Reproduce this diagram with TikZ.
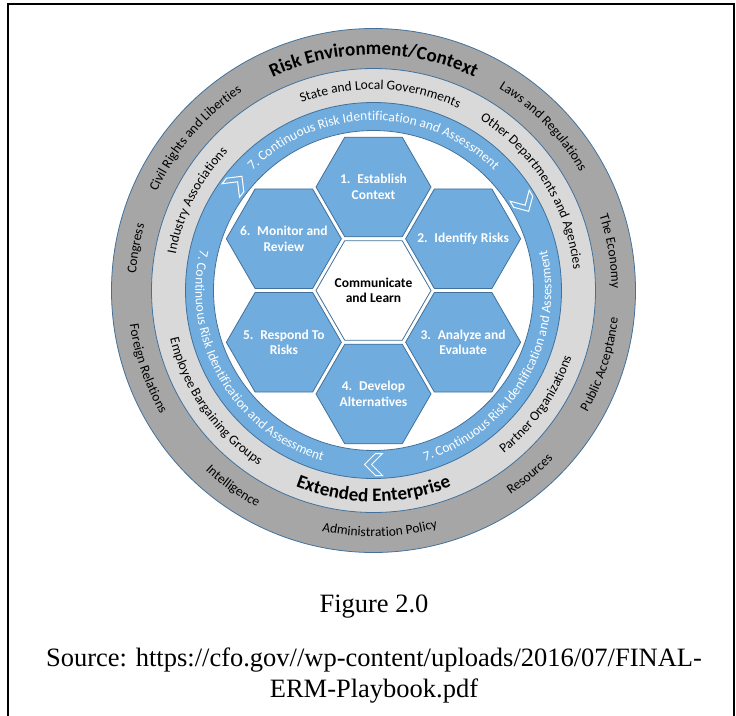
\documentclass[tikz,border=0pt]{standalone}
\usepackage{fontspec}
\setmainfont{Carlito}
\newfontfamily\timesfont{Liberation Serif}
\usetikzlibrary{shapes.geometric}
\usetikzlibrary{decorations.text}
\definecolor{hexblue}{RGB}{112,172,222}
\definecolor{edgeblue}{RGB}{65,113,156}
\definecolor{ringdark}{RGB}{166,166,166}
\definecolor{ringlight}{RGB}{217,217,217}

\newcommand{\lbl}{\fontsize{13.5}{16}\selectfont}
\newcommand{\biglbl}{\fontsize{19}{22}\selectfont\bfseries}
\newcommand{\capfont}{\timesfont\fontsize{26.5}{31}\selectfont}
% text on an arc: radius, middle angle, font, text
\newcommand{\cwtext}[4]{\path [decorate, decoration={text along path, text align=center, text={|#3|#4}}] ({#2+60}:#1) arc ({#2+60}:{#2-60}:#1);}
\newcommand{\ccwtext}[4]{\path [decorate, decoration={text along path, text align=center, text={|#3|#4}}] ({#2-60}:#1) arc ({#2-60}:{#2+60}:#1);}

\begin{document}
\begin{tikzpicture}[x=1pt, y=1pt,
  ring/.style={draw=edgeblue, line width=0.8},
  hexbox/.style={regular polygon, regular polygon sides=6, minimum size=115pt, inner sep=0pt, draw=edgeblue, line width=0.8, fill=hexblue},
  hextext/.style={text=white, align=center, inner sep=0pt, font=\fontsize{13.5}{15.5}\selectfont\bfseries},
  chevron/.style={draw=white, line width=1, fill=hexblue, line join=miter}]
\useasboundingbox (-373.5,-424.5) rectangle (362.5,290.5);
\clip (-373.5,-424.5) rectangle (362.5,290.5);
\draw [line width=2] (-365,-440) rectangle (360.5,286);

\draw [ring, fill=ringdark] (0,0) circle (262);
\draw [ring, fill=ringlight] (0,0) circle (222);
\draw [ring, fill=hexblue] (0,0) circle (188);
\draw [ring, fill=white] (0,0) circle (160);

% outer ring
\cwtext{236}{90}{\biglbl}{Risk Environment/Context}
\cwtext{238}{139.5}{\lbl}{Civil Rights and Liberties}
\cwtext{238}{44}{\lbl}{Laws and Regulations}
\cwtext{238}{9.4}{\lbl}{The Economy}
\cwtext{238}{170}{\lbl}{Congress}
\ccwtext{246}{-18}{\lbl}{Public Acceptance}
\ccwtext{246}{-49.6}{\lbl}{Resources}
\ccwtext{246}{-88.5}{\lbl}{Administration Policy}
\ccwtext{246}{-125.7}{\lbl}{Intelligence}
\ccwtext{246}{-161}{\lbl}{Foreign Relations}

% middle ring
\cwtext{201}{88}{\lbl}{State and Local Governments}
\cwtext{201}{32}{\lbl}{Other Departments and Agencies}
\cwtext{201}{153}{\lbl}{Industry Associations}
\ccwtext{209}{-35}{\lbl}{Partner Organizations}
\ccwtext{211}{-90}{\biglbl}{Extended Enterprise}
\ccwtext{209}{-145}{\lbl}{Employee Bargaining Groups}

% blue ring
\cwtext{170}{90}{\color{white}\lbl}{7. Continuous Risk Identification and Assessment}
\ccwtext{178}{-30}{\color{white}\lbl}{7. Continuous Risk Identification and Assessment}
\ccwtext{178}{-150}{\color{white}\lbl}{7. Continuous Risk Identification and Assessment}
\foreach \a in {142,30,-90}
  \draw [chevron, shift={(\a:174)}, rotate=\a-90] (-2,11) -- (9,0) -- (-2,-11) -- (-9,-11) -- (2,0) -- (-9,11) -- cycle;

% hexagons
\node [hexbox, fill=white] (learn) at (0,0) {};
\foreach \ang/\n in {90/establish, 30/identify, -30/analyze, -90/develop, -150/respond, 150/monitor}
  \node [hexbox] (\n) at (\ang:103.5) {};

\node [hextext, text=black] (learn-txt) at (learn) {Communicate\\and Learn};
\node [hextext] (establish-txt) at (establish) {1.\enspace Establish\\Context};
\node [hextext] (identify-txt) at (identify) {2.\enspace Identify Risks};
\node [hextext] (analyze-txt) at (analyze) {3.\enspace Analyze and\\Evaluate};
\node [hextext] (develop-txt) at (develop) {4.\enspace Develop\\Alternatives};
\node [hextext] (respond-txt) at (respond) {5.\enspace Respond To\\Risks};
\node [hextext] (monitor-txt) at (monitor) {6.\enspace Monitor and\\Review};

\node [font=\capfont, anchor=base] (fig) at (0.5,-321.5) {Figure 2.0};
\node [font=\capfont, anchor=base] (src) at (0.5,-375.5) {Source: https://cfo.gov//wp-content/uploads/2016/07/FINAL-};
\node [font=\capfont, anchor=base] (srcb) at (0.5,-406.5) {ERM-Playbook.pdf};
\end{tikzpicture}
\end{document}
